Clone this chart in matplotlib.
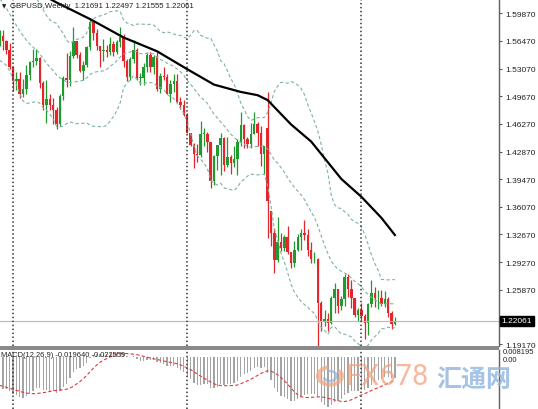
import matplotlib
matplotlib.use('Agg')
import matplotlib.pyplot as plt
from matplotlib.patches import Rectangle, Wedge
import numpy as np
import pandas as pd

plt.rcParams['font.family'] = ['Liberation Sans', 'DejaVu Sans']

# weekly closes before the visible window (needed by the indicators)
prior_closes = [1.6960, 1.7010, 1.7015, 1.7160, 1.7110, 1.7115, 1.6985, 1.6825, 1.6800, 1.6700,
                1.6600, 1.6585, 1.6330, 1.6260, 1.6310, 1.6300, 1.6220, 1.6070, 1.6080, 1.6090,
                1.5990, 1.5860, 1.5690, 1.5660, 1.5710, 1.5630]

opens = [1.5630, 1.5705, 1.5650, 1.5540, 1.5330, 1.5150, 1.5180, 1.4995, 1.5050, 1.5230,
         1.5390, 1.5395, 1.5435, 1.5125, 1.4860, 1.4930, 1.4860, 1.4800, 1.4630, 1.4965,
         1.5195, 1.5170, 1.5465, 1.5650, 1.5480, 1.5280, 1.5350, 1.5575, 1.5875, 1.5745,
         1.5580, 1.5520, 1.5530, 1.5505, 1.5610, 1.5505, 1.5640, 1.5700, 1.5400, 1.5200,
         1.5430, 1.5530, 1.5190, 1.5190, 1.5330, 1.5480, 1.5330, 1.5450, 1.5050, 1.5215,
         1.5200, 1.5000, 1.5120, 1.5150, 1.4900, 1.4860, 1.4740, 1.4520, 1.4370, 1.4260,
         1.4245, 1.4500, 1.4500, 1.4400, 1.3920, 1.4230, 1.4365, 1.4455, 1.4125, 1.4225,
         1.4140, 1.4200, 1.4400, 1.4615, 1.4445, 1.4375, 1.4500, 1.4620, 1.4520, 1.4255,
         1.4580, 1.3550, 1.3280, 1.2950, 1.3170, 1.3100, 1.3230, 1.3050, 1.2920, 1.3080,
         1.3240, 1.3280, 1.3260, 1.3070, 1.2960, 1.2970, 1.2430, 1.2185, 1.2230, 1.2180,
         1.2490, 1.2600, 1.2385, 1.2470, 1.2740, 1.2590, 1.2485, 1.2275, 1.2340, 1.2270,
         1.2180, 1.2410, 1.2550, 1.2480, 1.2490, 1.2410, 1.2470, 1.2300, 1.21691]
highs = [1.5785, 1.5785, 1.5660, 1.5620, 1.5340, 1.5270, 1.5270, 1.5180, 1.5350, 1.5400,
         1.5550, 1.5550, 1.5450, 1.5160, 1.5170, 1.4990, 1.4950, 1.4830, 1.5000, 1.5210,
         1.5500, 1.5520, 1.5815, 1.5650, 1.5510, 1.5400, 1.5590, 1.5930, 1.5875, 1.5790,
         1.5580, 1.5670, 1.5600, 1.5690, 1.5650, 1.5660, 1.5820, 1.5730, 1.5420, 1.5450,
         1.5660, 1.5560, 1.5250, 1.5370, 1.5510, 1.5510, 1.5480, 1.5510, 1.5250, 1.5330,
         1.5240, 1.5170, 1.5240, 1.5240, 1.4960, 1.4920, 1.4760, 1.4520, 1.4390, 1.4380,
         1.4665, 1.4580, 1.4530, 1.4410, 1.4240, 1.4370, 1.4515, 1.4460, 1.4460, 1.4240,
         1.4350, 1.4440, 1.4770, 1.4630, 1.4470, 1.4640, 1.4770, 1.4650, 1.4600, 1.4350,
         1.5018, 1.3550, 1.3350, 1.3480, 1.3290, 1.3260, 1.3370, 1.3050, 1.3185, 1.3270,
         1.3340, 1.3445, 1.3340, 1.3170, 1.3055, 1.2980, 1.2450, 1.2340, 1.2300, 1.2510,
         1.2675, 1.2600, 1.2510, 1.2775, 1.2775, 1.2710, 1.2490, 1.2360, 1.2430, 1.2290,
         1.2420, 1.2705, 1.2620, 1.2580, 1.2580, 1.2570, 1.2500, 1.2320, 1.22497]
lows = [1.5590, 1.5540, 1.5485, 1.5300, 1.5035, 1.5040, 1.4950, 1.4955, 1.4990, 1.5170,
        1.5330, 1.5350, 1.5070, 1.4800, 1.4640, 1.4800, 1.4630, 1.4565, 1.4600, 1.4920,
        1.5080, 1.5090, 1.5440, 1.5440, 1.5270, 1.5170, 1.5330, 1.5530, 1.5660, 1.5535,
        1.5330, 1.5400, 1.5450, 1.5480, 1.5460, 1.5490, 1.5570, 1.5330, 1.5160, 1.5170,
        1.5380, 1.5170, 1.5110, 1.5100, 1.5260, 1.5260, 1.5240, 1.5030, 1.5010, 1.5170,
        1.4990, 1.4890, 1.5020, 1.4890, 1.4810, 1.4730, 1.4510, 1.4350, 1.4080, 1.4160,
        1.4220, 1.4350, 1.4280, 1.3835, 1.3880, 1.4060, 1.4000, 1.4050, 1.4100, 1.4005,
        1.4100, 1.4000, 1.4350, 1.4335, 1.4330, 1.4330, 1.4500, 1.4350, 1.4115, 1.4010,
        1.3229, 1.3120, 1.2795, 1.2930, 1.3060, 1.3060, 1.3030, 1.2850, 1.2865, 1.3060,
        1.3070, 1.3200, 1.3000, 1.2920, 1.2910, 1.1900, 1.2085, 1.2140, 1.2080, 1.2170,
        1.2300, 1.2300, 1.2335, 1.2385, 1.2500, 1.2365, 1.2250, 1.2200, 1.2200, 1.1986,
        1.2030, 1.2380, 1.2380, 1.2345, 1.2385, 1.2380, 1.2250, 1.2110, 1.21555]
closes = [1.5705, 1.5650, 1.5540, 1.5330, 1.5150, 1.5180, 1.4995, 1.5050, 1.5230, 1.5390,
          1.5395, 1.5435, 1.5125, 1.4860, 1.4930, 1.4860, 1.4800, 1.4630, 1.4965, 1.5195,
          1.5170, 1.5465, 1.5650, 1.5480, 1.5280, 1.5350, 1.5575, 1.5875, 1.5745, 1.5580,
          1.5520, 1.5530, 1.5505, 1.5610, 1.5505, 1.5640, 1.5700, 1.5400, 1.5200, 1.5430,
          1.5530, 1.5190, 1.5190, 1.5330, 1.5480, 1.5330, 1.5450, 1.5050, 1.5215, 1.5200,
          1.5000, 1.5120, 1.5150, 1.4900, 1.4860, 1.4740, 1.4520, 1.4370, 1.4260, 1.4245,
          1.4500, 1.4500, 1.4400, 1.3920, 1.4230, 1.4365, 1.4455, 1.4125, 1.4225, 1.4140,
          1.4200, 1.4400, 1.4615, 1.4445, 1.4375, 1.4500, 1.4620, 1.4520, 1.4255, 1.4355,
          1.3679, 1.3280, 1.2950, 1.3170, 1.3100, 1.3230, 1.3050, 1.2920, 1.3080, 1.3240,
          1.3280, 1.3260, 1.3070, 1.2960, 1.2970, 1.2430, 1.2185, 1.2230, 1.2180, 1.2490,
          1.2600, 1.2385, 1.2470, 1.2740, 1.2590, 1.2485, 1.2275, 1.2340, 1.2270, 1.2180,
          1.2410, 1.2550, 1.2480, 1.2490, 1.2410, 1.2470, 1.2300, 1.2169, 1.22061]

# long moving average (black line) at these bars
ma_idx = [0, 8, 17, 27, 37, 47, 56, 64, 72, 77, 80, 87, 93, 102, 108, 114, 118]
ma_val = [1.650, 1.632, 1.612, 1.5916, 1.569, 1.552, 1.530, 1.511, 1.502, 1.498,
          1.492, 1.462, 1.441, 1.395, 1.373, 1.347, 1.326]

year_starts = [4, 56, 108]
price_ticks = [1.59870, 1.56470, 1.53070, 1.49670, 1.46270, 1.42870, 1.39470,
               1.36070, 1.32670, 1.29270, 1.25870, 1.19170]
last_price = 1.22061

W, H = 538, 410
fig = plt.figure(figsize=(W / 100, H / 100), dpi=100)

def fy(py):
    return 1 - py / H

xmin = 0.12
xmax = xmin + 499 / 3.35

ax = fig.add_axes([0, fy(347), 499 / W, 347 / H])
axm = fig.add_axes([0, 0, 499 / W, 59 / H])

green = '#1f9a2e'
red = '#e2262b'
o = np.array(opens); h = np.array(highs); l = np.array(lows); c = np.array(closes)
idx = np.arange(len(c))
cols = np.where(c >= o, green, red)

ax.vlines(idx, l, h, colors=cols, lw=0.9)
ax.bar(idx, np.maximum(np.abs(c - o), 0.0009), bottom=np.minimum(o, c),
       width=0.72, color=cols, lw=0)

# bollinger bands 20,2
allc = pd.Series(prior_closes + closes)
n0 = len(prior_closes)
mid = allc.rolling(20).mean()
sd = allc.rolling(20).std(ddof=0)
for band in (mid + 2 * sd, mid, mid - 2 * sd):
    ax.plot(idx, band.values[n0:], color='#7fb2a4', lw=0.8, ls=(0, (3, 2.2)))

ax.plot(ma_idx, ma_val, color='black', lw=1.6)
ax.axhline(last_price, color='#b8b8b8', lw=0.8)

for s in year_starts:
    ax.axvline(s, color='#333333', lw=1.1, ls=(0, (1, 1.6)))
    axm.axvline(s, color='#333333', lw=1.1, ls=(0, (1, 1.6)))

ax.set_xlim(xmin, xmax)
ax.set_ylim(1.1895, 1.6163)
ax.yaxis.tick_right()
ax.set_yticks(price_ticks)
ax.set_yticklabels(['%.5f' % t for t in price_ticks])
ax.tick_params(axis='y', labelsize=6, length=2.5, width=0.8, color='#555555',
               pad=2, labelcolor='#222222')
ax.set_xticks([])
for side in ('top', 'left', 'bottom'):
    ax.spines[side].set_visible(False)
ax.spines['right'].set_color('#606060')
ax.spines['right'].set_linewidth(1.0)

ax.annotate('%.5f' % last_price, xy=(1.0, last_price), xycoords=('axes fraction', 'data'),
            xytext=(2, 0), textcoords='offset points', ha='left', va='center',
            fontsize=6, color='white',
            bbox=dict(boxstyle='square,pad=0.2', fc='black', ec='black'))

# MACD 12,26,9
ema12 = allc.ewm(span=12, adjust=False).mean()
ema26 = allc.ewm(span=26, adjust=False).mean()
macd = ema12 - ema26
signal = macd.rolling(9).mean()
axm.bar(idx, macd.values[n0:], width=0.36, color='#a4a4a4', lw=0)
axm.plot(idx, signal.values[n0:], color='#e03a3a', lw=0.8, ls=(0, (3, 2)))
axm.set_xlim(xmin, xmax)
axm.set_ylim(-0.05, 0.0066)
axm.set_xticks([]); axm.set_yticks([])
for side in ('top', 'left', 'bottom'):
    axm.spines[side].set_visible(False)
axm.spines['right'].set_color('#606060')
axm.spines['right'].set_linewidth(1.0)

# panel separator
fig.add_artist(Rectangle((0, fy(351)), 499 / W, 4 / H, transform=fig.transFigure,
                         fc='#8a8a8a', ec='none'))

# header texts
fig.text(2 / W, fy(7), '▼', fontsize=4, va='center', family='DejaVu Sans', color='#222222')
fig.text(10 / W, fy(7), 'GBPUSD,Weekly  1.21691 1.22497 1.21555 1.22061',
         fontsize=5.6, va='center', color='#222222')
fig.text(1 / W, fy(356), 'MACD(12,26,9) -0.019640 -0.022559',
         fontsize=5.4, va='center', color='#222222')
fig.text(503 / W, fy(353), '0.008195', fontsize=5.5, va='center', color='#222222')
fig.text(503 / W, fy(361), '0.00', fontsize=5.5, va='center', color='#222222')

# watermark
fig.add_artist(Wedge((330 / W, fy(377)), 14 / W, 100, 400, width=5 / W,
                     transform=fig.transFigure, fc='#f2a57d', ec='none', alpha=0.7))
fig.add_artist(Wedge((330 / W, fy(377)), 8 / W, 200, 470, width=3 / W,
                     transform=fig.transFigure, fc='#8fb0d8', ec='none', alpha=0.7))
fig.text(346 / W, fy(377), 'FX678', fontsize=21, color='#f3a27c', alpha=0.75,
         va='center', ha='left', family=['Liberation Sans Narrow', 'Roboto'])
fig.text(436 / W, fy(380), '汇通网', fontsize=18, color='#8fb4de', alpha=0.8,
         va='center', ha='left', family=['Noto Sans CJK SC', 'DejaVu Sans'], weight='bold')

fig.savefig('out.png', dpi=100, facecolor='white')
